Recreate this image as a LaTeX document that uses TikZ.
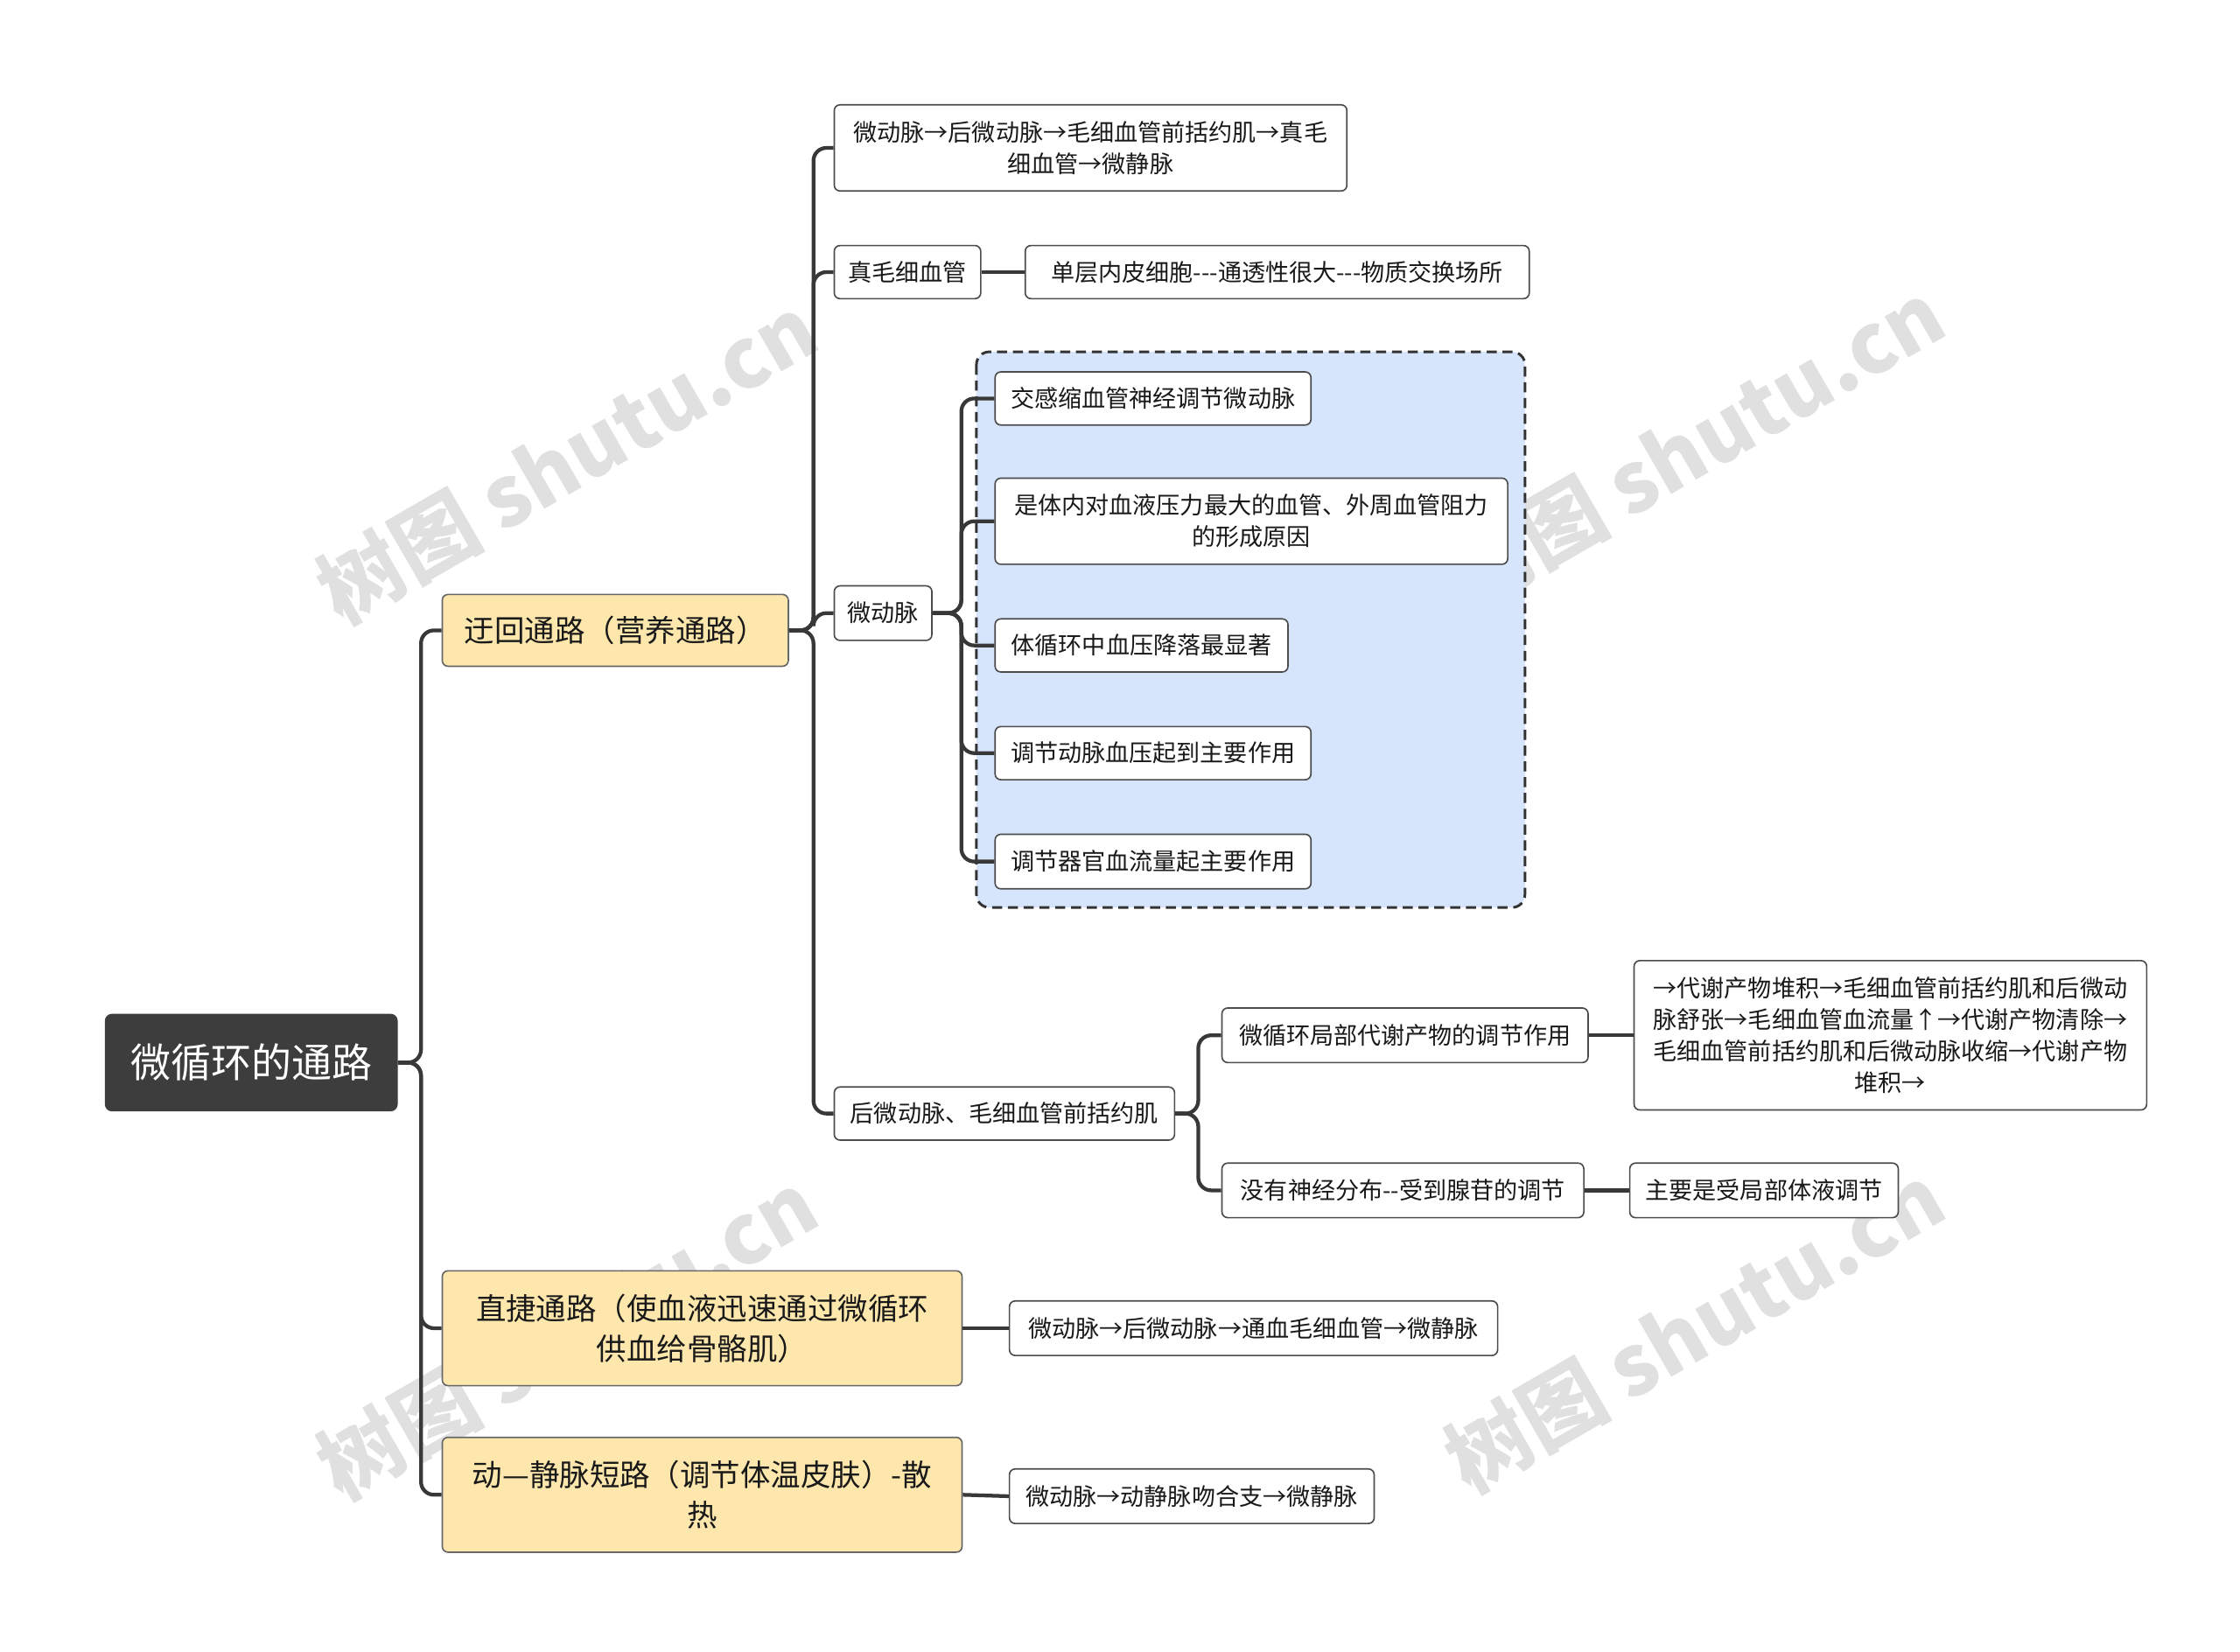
\documentclass[tikz,border=0pt]{standalone}
\usepackage{fontspec}
\setmainfont{Noto Sans CJK SC}
\begin{document}
\begin{tikzpicture}[x=1pt,y=-1pt,
  base/.style={rounded corners=4pt,draw=black!70,line width=1pt,inner sep=0pt,align=center,font=\fontsize{16.5}{22}\selectfont,text=black!90},
  leaf/.style={base,fill=white},
  lone/.style={base,fill={rgb,255:red,253;green,231;blue,173},draw=black!60,font=\fontsize{21}{28}\selectfont},
  conn/.style={draw=black!78,line width=2.6pt,rounded corners=9pt},
  wm/.style={text=black!12,font=\fontsize{58}{60}\selectfont\bfseries,rotate=30}]
\useasboundingbox (0,0) rectangle (1560,1150);
\newcommand\bx[7][leaf]{\node[#1,minimum width={(#5-#3)*1pt},minimum height={(#6-#4)*1pt}] (#2) at ({(#3+#5)/2},{(#4+#6)/2}) {#7};}
% watermarks
\node[wm] (w1) at (395,320) {树图 shutu.cn};
\node[wm] (w2) at (1180,310) {树图 shutu.cn};
\node[wm] (w3) at (395,930) {树图 shutu.cn};
\node[wm] (w4) at (1180,925) {树图 shutu.cn};
% dashed region
\draw[dash pattern=on 7pt off 4pt,line width=1.8pt,draw=black!80,fill={rgb,255:red,214;green,228;blue,252},rounded corners=9pt] (680,245) rectangle (1062,632);
% root
\node[rounded corners=5pt,fill={rgb,255:red,61;green,61;blue,61},text=white,minimum width=204pt,minimum height=68pt,inner sep=0pt,font=\fontsize{28}{30}\selectfont] (root) at (175,740) {微循环的通路};
\bx[lone]{L1}{308}{414}{549}{464}{迂回通路（营养通路）}
\bx[lone]{L2}{308}{885}{670}{965}{直捷通路（使血液迅速通过微循环\\供血给骨骼肌）}
\bx[lone]{L3}{308}{1001}{670}{1081}{动—静脉短路（调节体温皮肤）-散\\热}
\bx{A}{581}{73}{938}{133}{微动脉→后微动脉→毛细血管前括约肌→真毛\\细血管→微静脉}
\bx{B}{581}{171}{683}{208}{真毛细血管}
\bx{B1}{714}{171}{1065}{208}{单层内皮细胞{-}{-}{-}通透性很大{-}{-}{-}物质交换场所}
\bx{C}{581}{408}{649}{446}{微动脉}
\bx{C1}{693}{259}{913}{296}{交感缩血管神经调节微动脉}
\bx{C2}{693}{333}{1050}{393}{是体内对血液压力最大的血管、外周血管阻力\\的形成原因}
\bx{C3}{693}{431}{897}{468}{体循环中血压降落最显著}
\bx{C4}{693}{506}{913}{543}{调节动脉血压起到主要作用}
\bx{C5}{693}{581}{913}{619}{调节器官血流量起主要作用}
\bx{D}{581}{757}{818}{794}{后微动脉、毛细血管前括约肌}
\bx{D1}{851}{702}{1106}{740}{微循环局部代谢产物的调节作用}
\bx{D1a}{1138}{669}{1495}{773}{→代谢产物堆积→毛细血管前括约肌和后微动\\脉舒张→毛细血管血流量↑→代谢产物清除→\\毛细血管前括约肌和后微动脉收缩→代谢产物\\堆积→}
\bx{D2}{851}{810}{1103}{848}{没有神经分布{-}{-}受到腺苷的调节}
\bx{D2a}{1135}{810}{1322}{848}{主要是受局部体液调节}
\bx{E1}{703}{906}{1043}{944}{微动脉→后微动脉→通血毛细血管→微静脉}
\bx{F1}{703}{1023}{957}{1061}{微动脉→动静脉吻合支→微静脉}
% connectors
\foreach \c in {L1,L2,L3} \draw[conn] (root.east) -- ++(16,0) |- (\c.west);
\foreach \c in {A,B,C,D} \draw[conn] (L1.east) -- ++(17,0) |- (\c.west);
\foreach \c in {C1,C2,C3,C4,C5} \draw[conn] (C.east) -- ++(20,0) |- (\c.west);
\foreach \c in {D1,D2} \draw[conn] (D.east) -- ++(16,0) |- (\c.west);
\draw[conn] (B.east) -- (B1.west);
\draw[conn] (D1.east) -- (D1a.west);
\draw[conn] (D2.east) -- (D2a.west);
\draw[conn] (L2.east) -- (E1.west);
\draw[conn] (L3.east) -- (F1.west);
\end{tikzpicture}
\end{document}
